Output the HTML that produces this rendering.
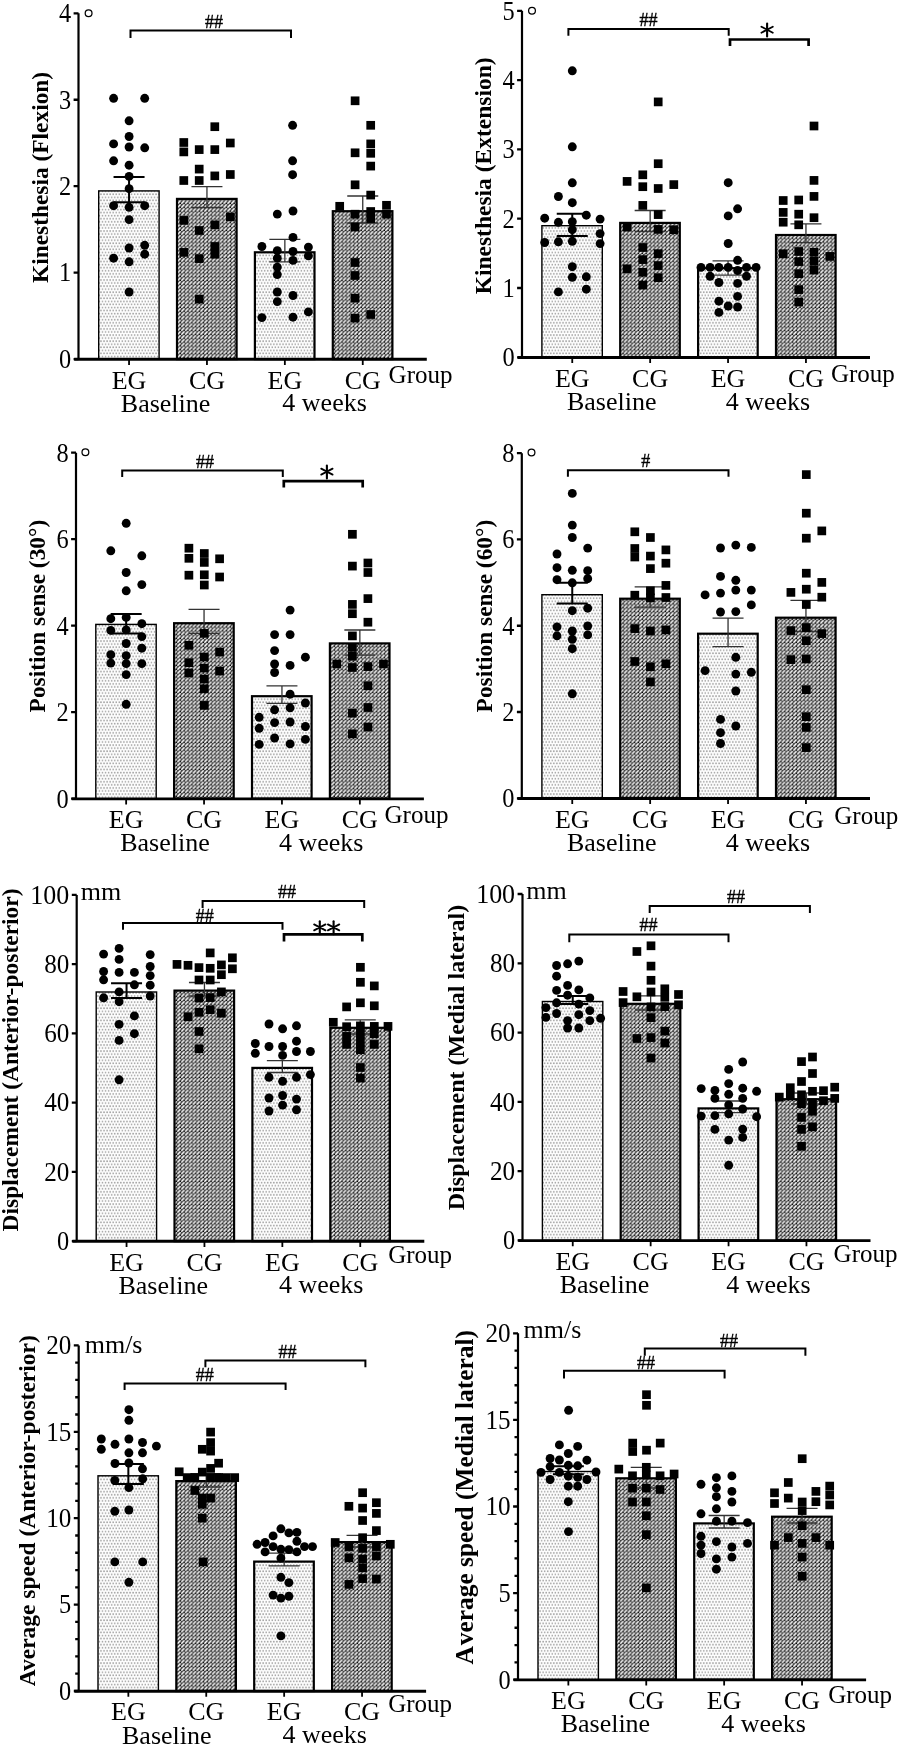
<!DOCTYPE html><html><head><meta charset="utf-8"><style>html,body{margin:0;padding:0;background:#fff;}svg{display:block;will-change:transform;}</style></head><body>
<svg width="901" height="1748" viewBox="0 0 901 1748" font-family='"Liberation Serif", serif' fill="#000">
<defs>
<pattern id="pEG" patternUnits="userSpaceOnUse" width="3.06" height="6.12"><rect width="3.06" height="6.12" fill="#fff"/><rect x="0.7" y="0.7" width="1.6" height="1.6" fill="#a8a8a8"/><rect x="-0.83" y="3.76" width="1.6" height="1.6" fill="#a8a8a8"/><rect x="2.23" y="3.76" width="1.6" height="1.6" fill="#a8a8a8"/></pattern>
<pattern id="pCG" patternUnits="userSpaceOnUse" width="3.85" height="3.85"><rect width="3.85" height="3.85" fill="#444444"/><rect x="2.85" y="2.85" width="1" height="1" fill="#000"/><path d="M0.8 3.05L3.05 0.8" stroke="#fff" stroke-width="1.47" stroke-linecap="round"/></pattern>
</defs>
<rect width="901" height="1748" fill="#fff"/>
<rect x="98.7" y="190.9" width="60.4" height="168.2" fill="url(#pEG)" stroke="#000" stroke-width="1.4"/>
<rect x="177" y="198.9" width="59.6" height="160.2" fill="url(#pCG)" stroke="#000" stroke-width="2.2"/>
<rect x="254.9" y="252.3" width="59.6" height="106.8" fill="url(#pEG)" stroke="#000" stroke-width="2.2"/>
<rect x="332.8" y="211.2" width="59.6" height="147.9" fill="url(#pCG)" stroke="#000" stroke-width="2.2"/>
<path d="M129.05 177.1V202.2M113.55 177.1H144.55M113.55 202.2H144.55" stroke="#000" stroke-width="2" fill="none"/>
<path d="M206.95 186.6V207.5M191.45 186.6H222.45M191.45 207.5H222.45" stroke="#333" stroke-width="1.3" fill="none"/>
<path d="M284.85 239.3V261.8M269.35 239.3H300.35M269.35 261.8H300.35" stroke="#333" stroke-width="1.3" fill="none"/>
<path d="M362.75 196V223M347.25 196H378.25M347.25 223H378.25" stroke="#333" stroke-width="1.3" fill="none"/>
<circle cx="113.6" cy="98.3" r="4.45"/>
<circle cx="144.7" cy="98.3" r="4.45"/>
<circle cx="129.1" cy="120.8" r="4.45"/>
<circle cx="129.1" cy="136.5" r="4.45"/>
<circle cx="113.6" cy="143.9" r="4.45"/>
<circle cx="129.1" cy="147" r="4.45"/>
<circle cx="144.7" cy="147.8" r="4.45"/>
<circle cx="113.6" cy="160.8" r="4.45"/>
<circle cx="129.1" cy="165.2" r="4.45"/>
<circle cx="129.1" cy="176.4" r="4.45"/>
<circle cx="129.1" cy="188.7" r="4.45"/>
<circle cx="113.6" cy="205.7" r="4.45"/>
<circle cx="129.1" cy="207.3" r="4.45"/>
<circle cx="144.7" cy="205.7" r="4.45"/>
<circle cx="129.1" cy="219.6" r="4.45"/>
<circle cx="129.1" cy="248" r="4.45"/>
<circle cx="144.7" cy="245.3" r="4.45"/>
<circle cx="144.7" cy="254.2" r="4.45"/>
<circle cx="113.6" cy="258.2" r="4.45"/>
<circle cx="129.1" cy="261.8" r="4.45"/>
<circle cx="129.1" cy="292" r="4.45"/>
<rect x="210.45" y="122.35" width="8.7" height="8.7"/>
<rect x="179.45" y="138.15" width="8.7" height="8.7"/>
<rect x="225.95" y="138.65" width="8.7" height="8.7"/>
<rect x="179.45" y="147.55" width="8.7" height="8.7"/>
<rect x="194.85" y="145.25" width="8.7" height="8.7"/>
<rect x="210.45" y="145.25" width="8.7" height="8.7"/>
<rect x="194.85" y="164.75" width="8.7" height="8.7"/>
<rect x="179.45" y="176.15" width="8.7" height="8.7"/>
<rect x="194.85" y="176.15" width="8.7" height="8.7"/>
<rect x="210.45" y="171.55" width="8.7" height="8.7"/>
<rect x="225.95" y="170.15" width="8.7" height="8.7"/>
<rect x="179.45" y="216.05" width="8.7" height="8.7"/>
<rect x="225.95" y="212.55" width="8.7" height="8.7"/>
<rect x="210.45" y="220.55" width="8.7" height="8.7"/>
<rect x="194.85" y="226.15" width="8.7" height="8.7"/>
<rect x="179.45" y="248.05" width="8.7" height="8.7"/>
<rect x="210.45" y="242.15" width="8.7" height="8.7"/>
<rect x="210.45" y="249.85" width="8.7" height="8.7"/>
<rect x="194.85" y="254.25" width="8.7" height="8.7"/>
<rect x="194.85" y="294.75" width="8.7" height="8.7"/>
<circle cx="292.6" cy="125.3" r="4.45"/>
<circle cx="292.6" cy="160.8" r="4.45"/>
<circle cx="292.6" cy="174.7" r="4.45"/>
<circle cx="277.3" cy="214.1" r="4.45"/>
<circle cx="293" cy="211" r="4.45"/>
<circle cx="293" cy="237.4" r="4.45"/>
<circle cx="261.9" cy="246.5" r="4.45"/>
<circle cx="308.4" cy="247.1" r="4.45"/>
<circle cx="277.3" cy="250.6" r="4.45"/>
<circle cx="293" cy="251.5" r="4.45"/>
<circle cx="308.4" cy="255.9" r="4.45"/>
<circle cx="277.3" cy="258.2" r="4.45"/>
<circle cx="293" cy="260.4" r="4.45"/>
<circle cx="277.3" cy="267.1" r="4.45"/>
<circle cx="277.3" cy="274.6" r="4.45"/>
<circle cx="277.3" cy="292" r="4.45"/>
<circle cx="293" cy="295.5" r="4.45"/>
<circle cx="277.3" cy="301.6" r="4.45"/>
<circle cx="308.4" cy="311.9" r="4.45"/>
<circle cx="261.9" cy="317.6" r="4.45"/>
<circle cx="293" cy="317.2" r="4.45"/>
<rect x="350.75" y="96.45" width="8.7" height="8.7"/>
<rect x="366.35" y="120.95" width="8.7" height="8.7"/>
<rect x="366.35" y="139.55" width="8.7" height="8.7"/>
<rect x="350.75" y="148.45" width="8.7" height="8.7"/>
<rect x="366.35" y="148.95" width="8.7" height="8.7"/>
<rect x="366.35" y="161.75" width="8.7" height="8.7"/>
<rect x="350.75" y="180.45" width="8.7" height="8.7"/>
<rect x="366.35" y="190.75" width="8.7" height="8.7"/>
<rect x="335.35" y="201.95" width="8.7" height="8.7"/>
<rect x="382.15" y="200.95" width="8.7" height="8.7"/>
<rect x="382.15" y="209.85" width="8.7" height="8.7"/>
<rect x="350.75" y="209.85" width="8.7" height="8.7"/>
<rect x="366.35" y="207.15" width="8.7" height="8.7"/>
<rect x="366.35" y="214.25" width="8.7" height="8.7"/>
<rect x="350.75" y="222.65" width="8.7" height="8.7"/>
<rect x="350.75" y="258.15" width="8.7" height="8.7"/>
<rect x="350.75" y="271.15" width="8.7" height="8.7"/>
<rect x="350.75" y="293.85" width="8.7" height="8.7"/>
<rect x="350.75" y="313.75" width="8.7" height="8.7"/>
<rect x="366.35" y="310.15" width="8.7" height="8.7"/>
<path d="M78.5 13.3V359.1" stroke="#000" stroke-width="2.2" fill="none"/>
<path d="M74.2 359.3H426.8" stroke="#000" stroke-width="2.9" fill="none"/>
<path d="M73.6 359.1H78.5M73.6 272.65H78.5M73.6 186.2H78.5M73.6 99.75H78.5M73.6 13.3H78.5" stroke="#000" stroke-width="2.3" fill="none"/>
<path d="M129.05 359.1V364.9M206.95 359.1V364.9M284.85 359.1V364.9M362.75 359.1V364.9" stroke="#000" stroke-width="1.8" fill="none"/>
<text transform="translate(71.1 367.9) scale(0.92 1)" font-size="26.5" text-anchor="end">0</text>
<text transform="translate(71.1 281.45) scale(0.92 1)" font-size="26.5" text-anchor="end">1</text>
<text transform="translate(71.1 195) scale(0.92 1)" font-size="26.5" text-anchor="end">2</text>
<text transform="translate(71.1 108.55) scale(0.92 1)" font-size="26.5" text-anchor="end">3</text>
<text transform="translate(71.1 22.1) scale(0.92 1)" font-size="26.5" text-anchor="end">4</text>
<circle cx="88.6" cy="13.3" r="3.4" fill="none" stroke="#000" stroke-width="1.25"/>
<text transform="translate(47.5 177.45) rotate(-90)" font-size="23.4" font-weight="bold" text-anchor="middle">Kinesthesia (Flexion)</text>
<text x="129.05" y="388.5" font-size="26" text-anchor="middle">EG</text>
<text x="206.95" y="388.5" font-size="26" text-anchor="middle">CG</text>
<text x="284.85" y="388.5" font-size="26" text-anchor="middle">EG</text>
<text x="362.75" y="388.5" font-size="26" text-anchor="middle">CG</text>
<text x="388.6" y="383.1" font-size="25">Group</text>
<text x="165.6" y="411.8" font-size="26" text-anchor="middle">Baseline</text>
<text x="324.6" y="411.4" font-size="26" text-anchor="middle">4 weeks</text>
<path d="M130.5 37.9V30.5H291V37.9" stroke="#000" stroke-width="2" fill="none"/>
<text x="213.9" y="27.6" font-size="18" text-anchor="middle" stroke="#000" stroke-width="0.35">##</text>
<rect x="541.9" y="225.7" width="60.4" height="131.6" fill="url(#pEG)" stroke="#000" stroke-width="1.4"/>
<rect x="620.2" y="222.9" width="59.6" height="134.4" fill="url(#pCG)" stroke="#000" stroke-width="2.2"/>
<rect x="698.1" y="268.2" width="59.6" height="89.1" fill="url(#pEG)" stroke="#000" stroke-width="2.2"/>
<rect x="776" y="235" width="59.6" height="122.3" fill="url(#pCG)" stroke="#000" stroke-width="2.2"/>
<path d="M572.25 213.7V235.9M556.75 213.7H587.75M556.75 235.9H587.75" stroke="#000" stroke-width="2" fill="none"/>
<path d="M650.15 210.5V231.5M634.65 210.5H665.65M634.65 231.5H665.65" stroke="#333" stroke-width="1.3" fill="none"/>
<path d="M728.05 260.9V275.1M712.55 260.9H743.55M712.55 275.1H743.55" stroke="#333" stroke-width="1.3" fill="none"/>
<path d="M805.95 223.9V242.6M790.45 223.9H821.45M790.45 242.6H821.45" stroke="#333" stroke-width="1.3" fill="none"/>
<circle cx="572.3" cy="70.8" r="4.45"/>
<circle cx="572.3" cy="146.8" r="4.45"/>
<circle cx="572.3" cy="182.8" r="4.45"/>
<circle cx="558.4" cy="196.5" r="4.45"/>
<circle cx="572.3" cy="202.7" r="4.45"/>
<circle cx="586.3" cy="215.2" r="4.45"/>
<circle cx="544.7" cy="218.2" r="4.45"/>
<circle cx="600.1" cy="219.1" r="4.45"/>
<circle cx="558.4" cy="222.3" r="4.45"/>
<circle cx="572.3" cy="221.7" r="4.45"/>
<circle cx="572.3" cy="229.7" r="4.45"/>
<circle cx="600.1" cy="233.6" r="4.45"/>
<circle cx="544.7" cy="242.5" r="4.45"/>
<circle cx="558.4" cy="241.8" r="4.45"/>
<circle cx="572.3" cy="241.3" r="4.45"/>
<circle cx="600.1" cy="243.6" r="4.45"/>
<circle cx="572.3" cy="266.7" r="4.45"/>
<circle cx="572.3" cy="277.3" r="4.45"/>
<circle cx="586.3" cy="276.8" r="4.45"/>
<circle cx="558.4" cy="291.9" r="4.45"/>
<circle cx="586.3" cy="289.2" r="4.45"/>
<rect x="653.85" y="97.55" width="8.7" height="8.7"/>
<rect x="653.85" y="159.35" width="8.7" height="8.7"/>
<rect x="638.45" y="170.45" width="8.7" height="8.7"/>
<rect x="622.75" y="177.05" width="8.7" height="8.7"/>
<rect x="638.45" y="182.35" width="8.7" height="8.7"/>
<rect x="653.85" y="184.15" width="8.7" height="8.7"/>
<rect x="669.45" y="180.25" width="8.7" height="8.7"/>
<rect x="638.45" y="201.05" width="8.7" height="8.7"/>
<rect x="653.85" y="210.25" width="8.7" height="8.7"/>
<rect x="622.75" y="222.75" width="8.7" height="8.7"/>
<rect x="653.85" y="225.05" width="8.7" height="8.7"/>
<rect x="669.45" y="225.35" width="8.7" height="8.7"/>
<rect x="638.45" y="243.15" width="8.7" height="8.7"/>
<rect x="653.85" y="249.35" width="8.7" height="8.7"/>
<rect x="638.45" y="255.25" width="8.7" height="8.7"/>
<rect x="653.85" y="261.25" width="8.7" height="8.7"/>
<rect x="622.75" y="264.45" width="8.7" height="8.7"/>
<rect x="638.45" y="267.95" width="8.7" height="8.7"/>
<rect x="653.85" y="273.35" width="8.7" height="8.7"/>
<rect x="638.45" y="280.75" width="8.7" height="8.7"/>
<circle cx="728.2" cy="182.7" r="4.45"/>
<circle cx="737.6" cy="208.8" r="4.45"/>
<circle cx="728.2" cy="215.9" r="4.45"/>
<circle cx="728.2" cy="243.5" r="4.45"/>
<circle cx="737.6" cy="260.3" r="4.45"/>
<circle cx="701" cy="267.4" r="4.45"/>
<circle cx="710.1" cy="267.4" r="4.45"/>
<circle cx="718.9" cy="267.4" r="4.45"/>
<circle cx="728.2" cy="267.4" r="4.45"/>
<circle cx="746.5" cy="267.4" r="4.45"/>
<circle cx="756.1" cy="267.4" r="4.45"/>
<circle cx="737.6" cy="270.5" r="4.45"/>
<circle cx="710.1" cy="276.3" r="4.45"/>
<circle cx="746.5" cy="276.3" r="4.45"/>
<circle cx="718.9" cy="282.5" r="4.45"/>
<circle cx="737.6" cy="283.4" r="4.45"/>
<circle cx="737.6" cy="296.4" r="4.45"/>
<circle cx="718.9" cy="301.2" r="4.45"/>
<circle cx="728.2" cy="306" r="4.45"/>
<circle cx="737.6" cy="307" r="4.45"/>
<circle cx="718.9" cy="312.4" r="4.45"/>
<rect x="809.65" y="121.65" width="8.7" height="8.7"/>
<rect x="809.65" y="176.05" width="8.7" height="8.7"/>
<rect x="809.65" y="192.05" width="8.7" height="8.7"/>
<rect x="778.85" y="196.15" width="8.7" height="8.7"/>
<rect x="794.35" y="195.65" width="8.7" height="8.7"/>
<rect x="778.85" y="208.05" width="8.7" height="8.7"/>
<rect x="794.35" y="209.85" width="8.7" height="8.7"/>
<rect x="809.65" y="213.35" width="8.7" height="8.7"/>
<rect x="778.85" y="217.85" width="8.7" height="8.7"/>
<rect x="794.35" y="220.45" width="8.7" height="8.7"/>
<rect x="778.85" y="249.45" width="8.7" height="8.7"/>
<rect x="825.45" y="252.05" width="8.7" height="8.7"/>
<rect x="794.35" y="247.15" width="8.7" height="8.7"/>
<rect x="794.35" y="257.25" width="8.7" height="8.7"/>
<rect x="809.65" y="247.95" width="8.7" height="8.7"/>
<rect x="809.65" y="256.85" width="8.7" height="8.7"/>
<rect x="809.65" y="265.75" width="8.7" height="8.7"/>
<rect x="794.35" y="269.35" width="8.7" height="8.7"/>
<rect x="794.35" y="285.25" width="8.7" height="8.7"/>
<rect x="794.35" y="297.75" width="8.7" height="8.7"/>
<path d="M522 10.8V357.3" stroke="#000" stroke-width="2.2" fill="none"/>
<path d="M517.7 357.5H870" stroke="#000" stroke-width="2.9" fill="none"/>
<path d="M517.1 357.3H522M517.1 288H522M517.1 218.7H522M517.1 149.4H522M517.1 80.1H522M517.1 10.8H522" stroke="#000" stroke-width="2.3" fill="none"/>
<path d="M572.25 357.3V363.1M650.15 357.3V363.1M728.05 357.3V363.1M805.95 357.3V363.1" stroke="#000" stroke-width="1.8" fill="none"/>
<text transform="translate(514.6 366.1) scale(0.92 1)" font-size="26.5" text-anchor="end">0</text>
<text transform="translate(514.6 296.8) scale(0.92 1)" font-size="26.5" text-anchor="end">1</text>
<text transform="translate(514.6 227.5) scale(0.92 1)" font-size="26.5" text-anchor="end">2</text>
<text transform="translate(514.6 158.2) scale(0.92 1)" font-size="26.5" text-anchor="end">3</text>
<text transform="translate(514.6 88.9) scale(0.92 1)" font-size="26.5" text-anchor="end">4</text>
<text transform="translate(514.6 19.6) scale(0.92 1)" font-size="26.5" text-anchor="end">5</text>
<circle cx="532" cy="10.7" r="3.4" fill="none" stroke="#000" stroke-width="1.25"/>
<text transform="translate(491.3 175.85) rotate(-90)" font-size="23.5" font-weight="bold" text-anchor="middle">Kinesthesia (Extension)</text>
<text x="572.25" y="386.7" font-size="26" text-anchor="middle">EG</text>
<text x="650.15" y="386.7" font-size="26" text-anchor="middle">CG</text>
<text x="728.05" y="386.7" font-size="26" text-anchor="middle">EG</text>
<text x="805.95" y="386.7" font-size="26" text-anchor="middle">CG</text>
<text x="830.9" y="381.7" font-size="25">Group</text>
<text x="611.75" y="410" font-size="26" text-anchor="middle">Baseline</text>
<text x="768" y="409.6" font-size="26" text-anchor="middle">4 weeks</text>
<path d="M568.4 35.7V28.9H728.7V35.7" stroke="#000" stroke-width="2" fill="none"/>
<text x="648.5" y="25.8" font-size="18" text-anchor="middle" stroke="#000" stroke-width="0.35">##</text>
<path d="M730 46V39.5H808.6V46" stroke="#000" stroke-width="2.7" fill="none"/>
<path d="M761.4 26.7L772.8 32.7M761.4 32.7L772.8 26.7" stroke="#000" stroke-width="1.8" stroke-linecap="round" fill="none"/><path d="M767.1 23.6V36.5" stroke="#000" stroke-width="2.1" stroke-linecap="round" fill="none"/>
<rect x="95.8" y="624.4" width="60.4" height="174.3" fill="url(#pEG)" stroke="#000" stroke-width="1.4"/>
<rect x="174.1" y="623.2" width="59.6" height="175.5" fill="url(#pCG)" stroke="#000" stroke-width="2.2"/>
<rect x="252" y="696.2" width="59.6" height="102.5" fill="url(#pEG)" stroke="#000" stroke-width="2.2"/>
<rect x="329.9" y="643.4" width="59.6" height="155.3" fill="url(#pCG)" stroke="#000" stroke-width="2.2"/>
<path d="M126.15 613.9V633.4M110.65 613.9H141.65M110.65 633.4H141.65" stroke="#000" stroke-width="2" fill="none"/>
<path d="M204.05 609.4V633.4M188.55 609.4H219.55M188.55 633.4H219.55" stroke="#333" stroke-width="1.3" fill="none"/>
<path d="M281.95 685.8V703.4M266.45 685.8H297.45M266.45 703.4H297.45" stroke="#333" stroke-width="1.3" fill="none"/>
<path d="M359.85 630V655.1M344.35 630H375.35M344.35 655.1H375.35" stroke="#333" stroke-width="1.3" fill="none"/>
<circle cx="126.2" cy="523.3" r="4.45"/>
<circle cx="110.8" cy="550.8" r="4.45"/>
<circle cx="141.8" cy="555.8" r="4.45"/>
<circle cx="126.2" cy="572.5" r="4.45"/>
<circle cx="141.8" cy="584.6" r="4.45"/>
<circle cx="126.2" cy="590.8" r="4.45"/>
<circle cx="110.8" cy="618.7" r="4.45"/>
<circle cx="126.2" cy="617.4" r="4.45"/>
<circle cx="141.8" cy="623.7" r="4.45"/>
<circle cx="110.8" cy="630.4" r="4.45"/>
<circle cx="126.2" cy="629.9" r="4.45"/>
<circle cx="141.8" cy="636.6" r="4.45"/>
<circle cx="126.2" cy="643.5" r="4.45"/>
<circle cx="141.8" cy="648.2" r="4.45"/>
<circle cx="110.8" cy="654.7" r="4.45"/>
<circle cx="126.2" cy="655.6" r="4.45"/>
<circle cx="110.8" cy="663.1" r="4.45"/>
<circle cx="126.2" cy="663.6" r="4.45"/>
<circle cx="141.8" cy="663.6" r="4.45"/>
<circle cx="126.2" cy="674.6" r="4.45"/>
<circle cx="126.2" cy="704.3" r="4.45"/>
<rect x="184.55" y="543.85" width="8.7" height="8.7"/>
<rect x="199.95" y="549.15" width="8.7" height="8.7"/>
<rect x="184.55" y="553.95" width="8.7" height="8.7"/>
<rect x="215.25" y="554.45" width="8.7" height="8.7"/>
<rect x="199.95" y="558.05" width="8.7" height="8.7"/>
<rect x="184.55" y="570.85" width="8.7" height="8.7"/>
<rect x="199.95" y="570.45" width="8.7" height="8.7"/>
<rect x="215.25" y="572.65" width="8.7" height="8.7"/>
<rect x="199.95" y="580.65" width="8.7" height="8.7"/>
<rect x="199.95" y="629.05" width="8.7" height="8.7"/>
<rect x="184.55" y="640.95" width="8.7" height="8.7"/>
<rect x="215.25" y="647.75" width="8.7" height="8.7"/>
<rect x="199.95" y="652.65" width="8.7" height="8.7"/>
<rect x="184.55" y="658.35" width="8.7" height="8.7"/>
<rect x="184.55" y="668.55" width="8.7" height="8.7"/>
<rect x="199.95" y="663.75" width="8.7" height="8.7"/>
<rect x="215.25" y="666.75" width="8.7" height="8.7"/>
<rect x="199.95" y="674.75" width="8.7" height="8.7"/>
<rect x="199.95" y="684.45" width="8.7" height="8.7"/>
<rect x="199.95" y="701.05" width="8.7" height="8.7"/>
<circle cx="290.1" cy="610.1" r="4.45"/>
<circle cx="274.6" cy="634.6" r="4.45"/>
<circle cx="290.1" cy="634.6" r="4.45"/>
<circle cx="274.6" cy="650.6" r="4.45"/>
<circle cx="305.4" cy="657.2" r="4.45"/>
<circle cx="274.6" cy="664" r="4.45"/>
<circle cx="290.1" cy="665.4" r="4.45"/>
<circle cx="274.6" cy="672.5" r="4.45"/>
<circle cx="290.1" cy="694.2" r="4.45"/>
<circle cx="305.4" cy="703" r="4.45"/>
<circle cx="274.6" cy="709.8" r="4.45"/>
<circle cx="290.1" cy="707.8" r="4.45"/>
<circle cx="259.2" cy="717.3" r="4.45"/>
<circle cx="274.6" cy="722.6" r="4.45"/>
<circle cx="290.1" cy="722" r="4.45"/>
<circle cx="259.2" cy="728.3" r="4.45"/>
<circle cx="305.4" cy="726.5" r="4.45"/>
<circle cx="274.6" cy="738" r="4.45"/>
<circle cx="305.4" cy="739.4" r="4.45"/>
<circle cx="259.2" cy="744.4" r="4.45"/>
<circle cx="290.1" cy="743.9" r="4.45"/>
<rect x="348.05" y="529.95" width="8.7" height="8.7"/>
<rect x="348.05" y="561.75" width="8.7" height="8.7"/>
<rect x="363.55" y="558.65" width="8.7" height="8.7"/>
<rect x="363.55" y="568.15" width="8.7" height="8.7"/>
<rect x="363.55" y="594.25" width="8.7" height="8.7"/>
<rect x="348.05" y="600.05" width="8.7" height="8.7"/>
<rect x="348.05" y="609.35" width="8.7" height="8.7"/>
<rect x="363.55" y="617.85" width="8.7" height="8.7"/>
<rect x="348.05" y="631.55" width="8.7" height="8.7"/>
<rect x="348.05" y="643.05" width="8.7" height="8.7"/>
<rect x="348.05" y="651.95" width="8.7" height="8.7"/>
<rect x="332.45" y="659.65" width="8.7" height="8.7"/>
<rect x="379.15" y="659.65" width="8.7" height="8.7"/>
<rect x="348.05" y="663.15" width="8.7" height="8.7"/>
<rect x="363.55" y="662.25" width="8.7" height="8.7"/>
<rect x="363.55" y="681.45" width="8.7" height="8.7"/>
<rect x="363.55" y="703.15" width="8.7" height="8.7"/>
<rect x="348.05" y="708.85" width="8.7" height="8.7"/>
<rect x="363.55" y="722.65" width="8.7" height="8.7"/>
<rect x="348.05" y="729.45" width="8.7" height="8.7"/>
<path d="M76 452.7V798.7" stroke="#000" stroke-width="2.2" fill="none"/>
<path d="M71.7 798.9H423.9" stroke="#000" stroke-width="2.9" fill="none"/>
<path d="M71.1 798.7H76M71.1 712.2H76M71.1 625.7H76M71.1 539.2H76M71.1 452.7H76" stroke="#000" stroke-width="2.3" fill="none"/>
<path d="M126.15 798.7V804.5M204.05 798.7V804.5M281.95 798.7V804.5M359.85 798.7V804.5" stroke="#000" stroke-width="1.8" fill="none"/>
<text transform="translate(68.6 807.5) scale(0.92 1)" font-size="26.5" text-anchor="end">0</text>
<text transform="translate(68.6 721) scale(0.92 1)" font-size="26.5" text-anchor="end">2</text>
<text transform="translate(68.6 634.5) scale(0.92 1)" font-size="26.5" text-anchor="end">4</text>
<text transform="translate(68.6 548) scale(0.92 1)" font-size="26.5" text-anchor="end">6</text>
<text transform="translate(68.6 461.5) scale(0.92 1)" font-size="26.5" text-anchor="end">8</text>
<circle cx="85.4" cy="452.2" r="3.4" fill="none" stroke="#000" stroke-width="1.25"/>
<text transform="translate(44.7 616.1) rotate(-90)" font-size="23.4" font-weight="bold" text-anchor="middle">Position sense (30°)</text>
<text x="126.15" y="828.1" font-size="26" text-anchor="middle">EG</text>
<text x="204.05" y="828.1" font-size="26" text-anchor="middle">CG</text>
<text x="281.95" y="828.1" font-size="26" text-anchor="middle">EG</text>
<text x="359.85" y="828.1" font-size="26" text-anchor="middle">CG</text>
<text x="384.5" y="823" font-size="25">Group</text>
<text x="165" y="851.4" font-size="26" text-anchor="middle">Baseline</text>
<text x="321.2" y="851" font-size="26" text-anchor="middle">4 weeks</text>
<path d="M122.2 477V470.6H282.8V477" stroke="#000" stroke-width="2" fill="none"/>
<text x="205" y="467.7" font-size="18" text-anchor="middle" stroke="#000" stroke-width="0.35">##</text>
<path d="M283.8 487.6V481.2H362.7V487.6" stroke="#000" stroke-width="2.7" fill="none"/>
<path d="M321.2 468.6L332.6 474.6M321.2 474.6L332.6 468.6" stroke="#000" stroke-width="1.8" stroke-linecap="round" fill="none"/><path d="M326.9 465.5V478.4" stroke="#000" stroke-width="2.1" stroke-linecap="round" fill="none"/>
<rect x="541.9" y="594.7" width="60.4" height="203.6" fill="url(#pEG)" stroke="#000" stroke-width="1.4"/>
<rect x="620.2" y="598.7" width="59.6" height="199.6" fill="url(#pCG)" stroke="#000" stroke-width="2.2"/>
<rect x="698.1" y="633.7" width="59.6" height="164.6" fill="url(#pEG)" stroke="#000" stroke-width="2.2"/>
<rect x="776" y="617.7" width="59.6" height="180.6" fill="url(#pCG)" stroke="#000" stroke-width="2.2"/>
<path d="M572.25 582.8V603.5M556.75 582.8H587.75M556.75 603.5H587.75" stroke="#000" stroke-width="2" fill="none"/>
<path d="M650.15 586.9V607.1M634.65 586.9H665.65M634.65 607.1H665.65" stroke="#333" stroke-width="1.3" fill="none"/>
<path d="M728.05 618.2V646.6M712.55 618.2H743.55M712.55 646.6H743.55" stroke="#333" stroke-width="1.3" fill="none"/>
<path d="M805.95 600.4V631.5M790.45 600.4H821.45M790.45 631.5H821.45" stroke="#333" stroke-width="1.3" fill="none"/>
<circle cx="572.3" cy="493.4" r="4.45"/>
<circle cx="572.3" cy="525.1" r="4.45"/>
<circle cx="572.3" cy="537.5" r="4.45"/>
<circle cx="587.7" cy="548.1" r="4.45"/>
<circle cx="557" cy="554" r="4.45"/>
<circle cx="557" cy="567.7" r="4.45"/>
<circle cx="572.3" cy="570.3" r="4.45"/>
<circle cx="587.7" cy="570.7" r="4.45"/>
<circle cx="557" cy="579.7" r="4.45"/>
<circle cx="587.7" cy="578.7" r="4.45"/>
<circle cx="572.3" cy="582.8" r="4.45"/>
<circle cx="572.3" cy="610.7" r="4.45"/>
<circle cx="587.7" cy="608.2" r="4.45"/>
<circle cx="557" cy="626.9" r="4.45"/>
<circle cx="557" cy="635.8" r="4.45"/>
<circle cx="587.7" cy="626" r="4.45"/>
<circle cx="587.7" cy="634.9" r="4.45"/>
<circle cx="572.3" cy="631" r="4.45"/>
<circle cx="572.3" cy="639.3" r="4.45"/>
<circle cx="572.3" cy="648.7" r="4.45"/>
<circle cx="572.3" cy="693.8" r="4.45"/>
<rect x="630.45" y="527.45" width="8.7" height="8.7"/>
<rect x="646.05" y="533.15" width="8.7" height="8.7"/>
<rect x="630.45" y="544.15" width="8.7" height="8.7"/>
<rect x="630.45" y="552.65" width="8.7" height="8.7"/>
<rect x="661.55" y="545.55" width="8.7" height="8.7"/>
<rect x="646.05" y="551.75" width="8.7" height="8.7"/>
<rect x="661.55" y="558.85" width="8.7" height="8.7"/>
<rect x="646.05" y="564.25" width="8.7" height="8.7"/>
<rect x="661.55" y="581.05" width="8.7" height="8.7"/>
<rect x="646.05" y="586.45" width="8.7" height="8.7"/>
<rect x="646.05" y="593.55" width="8.7" height="8.7"/>
<rect x="630.45" y="590.85" width="8.7" height="8.7"/>
<rect x="661.55" y="593.15" width="8.7" height="8.7"/>
<rect x="630.45" y="624.25" width="8.7" height="8.7"/>
<rect x="646.05" y="626.65" width="8.7" height="8.7"/>
<rect x="661.55" y="625.55" width="8.7" height="8.7"/>
<rect x="630.45" y="657.15" width="8.7" height="8.7"/>
<rect x="646.05" y="662.45" width="8.7" height="8.7"/>
<rect x="661.55" y="659.45" width="8.7" height="8.7"/>
<rect x="646.05" y="677.55" width="8.7" height="8.7"/>
<circle cx="720.5" cy="548" r="4.45"/>
<circle cx="735.8" cy="545.1" r="4.45"/>
<circle cx="751.3" cy="547.4" r="4.45"/>
<circle cx="720.5" cy="576.4" r="4.45"/>
<circle cx="735.8" cy="580.3" r="4.45"/>
<circle cx="705.1" cy="594.9" r="4.45"/>
<circle cx="720.5" cy="593.1" r="4.45"/>
<circle cx="735.8" cy="590.1" r="4.45"/>
<circle cx="751.3" cy="590.1" r="4.45"/>
<circle cx="751.3" cy="604.9" r="4.45"/>
<circle cx="720.5" cy="612" r="4.45"/>
<circle cx="735.8" cy="611.6" r="4.45"/>
<circle cx="735.8" cy="657.3" r="4.45"/>
<circle cx="705.1" cy="670.6" r="4.45"/>
<circle cx="735.8" cy="674.1" r="4.45"/>
<circle cx="751.3" cy="672.3" r="4.45"/>
<circle cx="735.8" cy="691" r="4.45"/>
<circle cx="720.5" cy="719.4" r="4.45"/>
<circle cx="735.8" cy="726" r="4.45"/>
<circle cx="720.5" cy="732.7" r="4.45"/>
<circle cx="720.5" cy="743.5" r="4.45"/>
<rect x="801.95" y="470.25" width="8.7" height="8.7"/>
<rect x="801.95" y="508.85" width="8.7" height="8.7"/>
<rect x="817.45" y="526.55" width="8.7" height="8.7"/>
<rect x="801.95" y="533.85" width="8.7" height="8.7"/>
<rect x="801.95" y="568.85" width="8.7" height="8.7"/>
<rect x="817.45" y="578.05" width="8.7" height="8.7"/>
<rect x="801.95" y="584.85" width="8.7" height="8.7"/>
<rect x="786.55" y="588.05" width="8.7" height="8.7"/>
<rect x="817.45" y="592.85" width="8.7" height="8.7"/>
<rect x="801.95" y="600.15" width="8.7" height="8.7"/>
<rect x="786.55" y="626.25" width="8.7" height="8.7"/>
<rect x="801.95" y="623.25" width="8.7" height="8.7"/>
<rect x="817.45" y="629.25" width="8.7" height="8.7"/>
<rect x="801.95" y="636.35" width="8.7" height="8.7"/>
<rect x="786.55" y="655.25" width="8.7" height="8.7"/>
<rect x="801.95" y="654.65" width="8.7" height="8.7"/>
<rect x="801.95" y="685.35" width="8.7" height="8.7"/>
<rect x="801.95" y="712.35" width="8.7" height="8.7"/>
<rect x="801.95" y="723.05" width="8.7" height="8.7"/>
<rect x="801.95" y="743.25" width="8.7" height="8.7"/>
<path d="M521.8 453.2V798.3" stroke="#000" stroke-width="2.2" fill="none"/>
<path d="M517.5 798.5H870" stroke="#000" stroke-width="2.9" fill="none"/>
<path d="M516.9 798.3H521.8M516.9 712.02H521.8M516.9 625.75H521.8M516.9 539.47H521.8M516.9 453.2H521.8" stroke="#000" stroke-width="2.3" fill="none"/>
<path d="M572.25 798.3V804.1M650.15 798.3V804.1M728.05 798.3V804.1M805.95 798.3V804.1" stroke="#000" stroke-width="1.8" fill="none"/>
<text transform="translate(514.4 807.1) scale(0.92 1)" font-size="26.5" text-anchor="end">0</text>
<text transform="translate(514.4 720.82) scale(0.92 1)" font-size="26.5" text-anchor="end">2</text>
<text transform="translate(514.4 634.55) scale(0.92 1)" font-size="26.5" text-anchor="end">4</text>
<text transform="translate(514.4 548.27) scale(0.92 1)" font-size="26.5" text-anchor="end">6</text>
<text transform="translate(514.4 462) scale(0.92 1)" font-size="26.5" text-anchor="end">8</text>
<circle cx="531.5" cy="452.5" r="3.4" fill="none" stroke="#000" stroke-width="1.25"/>
<text transform="translate(492 616.1) rotate(-90)" font-size="23.4" font-weight="bold" text-anchor="middle">Position sense (60°)</text>
<text x="572.25" y="827.7" font-size="26" text-anchor="middle">EG</text>
<text x="650.15" y="827.7" font-size="26" text-anchor="middle">CG</text>
<text x="728.05" y="827.7" font-size="26" text-anchor="middle">EG</text>
<text x="805.95" y="827.7" font-size="26" text-anchor="middle">CG</text>
<text x="834.3" y="823.6" font-size="25">Group</text>
<text x="611.75" y="851" font-size="26" text-anchor="middle">Baseline</text>
<text x="768" y="850.6" font-size="26" text-anchor="middle">4 weeks</text>
<path d="M567.9 476.7V470.2H728.5V476.7" stroke="#000" stroke-width="2" fill="none"/>
<text x="645.7" y="467.3" font-size="18" text-anchor="middle" stroke="#000" stroke-width="0.35">#</text>
<rect x="96.2" y="992" width="60.4" height="249.1" fill="url(#pEG)" stroke="#000" stroke-width="1.4"/>
<rect x="174.5" y="990.6" width="59.6" height="250.5" fill="url(#pCG)" stroke="#000" stroke-width="2.2"/>
<rect x="252.4" y="1067.9" width="59.6" height="173.2" fill="url(#pEG)" stroke="#000" stroke-width="2.2"/>
<rect x="330.3" y="1027.8" width="59.6" height="213.3" fill="url(#pCG)" stroke="#000" stroke-width="2.2"/>
<path d="M126.55 983.3V997.9M111.05 983.3H142.05M111.05 997.9H142.05" stroke="#000" stroke-width="2" fill="none"/>
<path d="M204.45 982.5V996M188.95 982.5H219.95M188.95 996H219.95" stroke="#333" stroke-width="1.3" fill="none"/>
<path d="M282.35 1060.7V1072.5M266.85 1060.7H297.85M266.85 1072.5H297.85" stroke="#333" stroke-width="1.3" fill="none"/>
<path d="M360.25 1019.9V1034M344.75 1019.9H375.75M344.75 1034H375.75" stroke="#333" stroke-width="1.3" fill="none"/>
<circle cx="119.1" cy="948.4" r="4.45"/>
<circle cx="103.6" cy="954.1" r="4.45"/>
<circle cx="150.2" cy="954.6" r="4.45"/>
<circle cx="119.1" cy="959.4" r="4.45"/>
<circle cx="150.2" cy="966.5" r="4.45"/>
<circle cx="103.6" cy="971.5" r="4.45"/>
<circle cx="119.1" cy="972.4" r="4.45"/>
<circle cx="134.4" cy="972.4" r="4.45"/>
<circle cx="150.2" cy="975.6" r="4.45"/>
<circle cx="103.6" cy="979.8" r="4.45"/>
<circle cx="134.4" cy="984.8" r="4.45"/>
<circle cx="150.2" cy="985.2" r="4.45"/>
<circle cx="119.1" cy="991.9" r="4.45"/>
<circle cx="150.2" cy="996" r="4.45"/>
<circle cx="103.6" cy="997.8" r="4.45"/>
<circle cx="119.1" cy="1001.7" r="4.45"/>
<circle cx="134.4" cy="1015.9" r="4.45"/>
<circle cx="119.1" cy="1024.4" r="4.45"/>
<circle cx="134.4" cy="1033.7" r="4.45"/>
<circle cx="119.1" cy="1040.4" r="4.45"/>
<circle cx="119.1" cy="1079.8" r="4.45"/>
<rect x="205.85" y="948.55" width="8.7" height="8.7"/>
<rect x="228.05" y="953.45" width="8.7" height="8.7"/>
<rect x="172.65" y="960.05" width="8.7" height="8.7"/>
<rect x="183.65" y="960.95" width="8.7" height="8.7"/>
<rect x="217.05" y="960.55" width="8.7" height="8.7"/>
<rect x="194.65" y="963.25" width="8.7" height="8.7"/>
<rect x="205.85" y="963.95" width="8.7" height="8.7"/>
<rect x="228.05" y="964.45" width="8.7" height="8.7"/>
<rect x="217.05" y="970.35" width="8.7" height="8.7"/>
<rect x="194.65" y="975.65" width="8.7" height="8.7"/>
<rect x="205.85" y="975.65" width="8.7" height="8.7"/>
<rect x="217.05" y="987.55" width="8.7" height="8.7"/>
<rect x="194.65" y="993.75" width="8.7" height="8.7"/>
<rect x="205.85" y="993.25" width="8.7" height="8.7"/>
<rect x="205.85" y="1005.35" width="8.7" height="8.7"/>
<rect x="183.65" y="1012.45" width="8.7" height="8.7"/>
<rect x="194.65" y="1007.95" width="8.7" height="8.7"/>
<rect x="217.05" y="1008.85" width="8.7" height="8.7"/>
<rect x="194.65" y="1027.15" width="8.7" height="8.7"/>
<rect x="194.65" y="1044.45" width="8.7" height="8.7"/>
<circle cx="269" cy="1024" r="4.45"/>
<circle cx="282.6" cy="1028.8" r="4.45"/>
<circle cx="296.5" cy="1025.8" r="4.45"/>
<circle cx="296.5" cy="1041.2" r="4.45"/>
<circle cx="255.3" cy="1043.5" r="4.45"/>
<circle cx="269" cy="1046.5" r="4.45"/>
<circle cx="282.6" cy="1046.5" r="4.45"/>
<circle cx="255.3" cy="1053.3" r="4.45"/>
<circle cx="296.5" cy="1051.5" r="4.45"/>
<circle cx="310.4" cy="1051.5" r="4.45"/>
<circle cx="282.6" cy="1055.4" r="4.45"/>
<circle cx="310.4" cy="1074.6" r="4.45"/>
<circle cx="269" cy="1077.3" r="4.45"/>
<circle cx="296.5" cy="1077.3" r="4.45"/>
<circle cx="282.6" cy="1081.3" r="4.45"/>
<circle cx="282.6" cy="1095.5" r="4.45"/>
<circle cx="269" cy="1098" r="4.45"/>
<circle cx="296.5" cy="1099.1" r="4.45"/>
<circle cx="282.6" cy="1105.1" r="4.45"/>
<circle cx="269" cy="1111" r="4.45"/>
<circle cx="296.5" cy="1109.8" r="4.45"/>
<rect x="356.05" y="962.95" width="8.7" height="8.7"/>
<rect x="356.05" y="977.95" width="8.7" height="8.7"/>
<rect x="369.95" y="981.55" width="8.7" height="8.7"/>
<rect x="342.25" y="1002.55" width="8.7" height="8.7"/>
<rect x="356.05" y="998.45" width="8.7" height="8.7"/>
<rect x="369.95" y="1001.45" width="8.7" height="8.7"/>
<rect x="328.95" y="1017.95" width="8.7" height="8.7"/>
<rect x="342.25" y="1022.35" width="8.7" height="8.7"/>
<rect x="356.05" y="1021.55" width="8.7" height="8.7"/>
<rect x="369.95" y="1022.05" width="8.7" height="8.7"/>
<rect x="383.65" y="1022.05" width="8.7" height="8.7"/>
<rect x="342.25" y="1032.05" width="8.7" height="8.7"/>
<rect x="342.25" y="1040.05" width="8.7" height="8.7"/>
<rect x="356.05" y="1029.35" width="8.7" height="8.7"/>
<rect x="356.05" y="1037.35" width="8.7" height="8.7"/>
<rect x="356.05" y="1045.35" width="8.7" height="8.7"/>
<rect x="369.95" y="1029.35" width="8.7" height="8.7"/>
<rect x="369.95" y="1040.05" width="8.7" height="8.7"/>
<rect x="356.05" y="1063.15" width="8.7" height="8.7"/>
<rect x="356.05" y="1073.75" width="8.7" height="8.7"/>
<path d="M76.7 894.9V1241.1" stroke="#000" stroke-width="2.2" fill="none"/>
<path d="M72.4 1241.3H424.3" stroke="#000" stroke-width="2.9" fill="none"/>
<path d="M71.8 1241.1H76.7M71.8 1171.86H76.7M71.8 1102.62H76.7M71.8 1033.38H76.7M71.8 964.14H76.7M71.8 894.9H76.7" stroke="#000" stroke-width="2.3" fill="none"/>
<path d="M126.55 1241.1V1246.9M204.45 1241.1V1246.9M282.35 1241.1V1246.9M360.25 1241.1V1246.9" stroke="#000" stroke-width="1.8" fill="none"/>
<text transform="translate(69.3 1249.9) scale(0.92 1)" font-size="26.5" text-anchor="end">0</text>
<text transform="translate(69.3 1180.66) scale(0.95 1)" font-size="26.5" text-anchor="end">20</text>
<text transform="translate(69.3 1111.42) scale(0.95 1)" font-size="26.5" text-anchor="end">40</text>
<text transform="translate(69.3 1042.18) scale(0.95 1)" font-size="26.5" text-anchor="end">60</text>
<text transform="translate(69.3 972.94) scale(0.95 1)" font-size="26.5" text-anchor="end">80</text>
<text transform="translate(69.3 903.7) scale(0.98 1)" font-size="26.5" text-anchor="end">100</text>
<text x="80.8" y="899.6" font-size="26">mm</text>
<text transform="translate(17.5 1059.9) rotate(-90)" font-size="23.5" font-weight="bold" text-anchor="middle">Displacement (Anterior-posterior)</text>
<text x="126.55" y="1270.5" font-size="26" text-anchor="middle">EG</text>
<text x="204.45" y="1270.5" font-size="26" text-anchor="middle">CG</text>
<text x="282.35" y="1270.5" font-size="26" text-anchor="middle">EG</text>
<text x="360.25" y="1270.5" font-size="26" text-anchor="middle">CG</text>
<text x="388.2" y="1263.3" font-size="25">Group</text>
<text x="163.2" y="1293.8" font-size="26" text-anchor="middle">Baseline</text>
<text x="321.2" y="1293.4" font-size="26" text-anchor="middle">4 weeks</text>
<path d="M202.6 908V901.1H364.2V908" stroke="#000" stroke-width="2" fill="none"/>
<text x="287.1" y="898.3" font-size="18" text-anchor="middle" stroke="#000" stroke-width="0.35">##</text>
<path d="M123 929.7V922.9H282.5V929.7" stroke="#000" stroke-width="2" fill="none"/>
<text x="204.8" y="921.6" font-size="18" text-anchor="middle" stroke="#000" stroke-width="0.35">##</text>
<path d="M284 941.5V934.4H362.3V941.5" stroke="#000" stroke-width="2.7" fill="none"/>
<path d="M314.1 924.4L325.5 930.4M314.1 930.4L325.5 924.4" stroke="#000" stroke-width="1.8" stroke-linecap="round" fill="none"/><path d="M319.8 921.3V934.2" stroke="#000" stroke-width="2.1" stroke-linecap="round" fill="none"/>
<path d="M327.9 924.4L339.3 930.4M327.9 930.4L339.3 924.4" stroke="#000" stroke-width="1.8" stroke-linecap="round" fill="none"/><path d="M333.6 921.3V934.2" stroke="#000" stroke-width="2.1" stroke-linecap="round" fill="none"/>
<rect x="542.4" y="1001.5" width="60.4" height="238.9" fill="url(#pEG)" stroke="#000" stroke-width="1.4"/>
<rect x="620.7" y="1003.8" width="59.6" height="236.6" fill="url(#pCG)" stroke="#000" stroke-width="2.2"/>
<rect x="698.6" y="1108.4" width="59.6" height="132" fill="url(#pEG)" stroke="#000" stroke-width="2.2"/>
<rect x="776.5" y="1099.2" width="59.6" height="141.2" fill="url(#pCG)" stroke="#000" stroke-width="2.2"/>
<path d="M572.75 996.1V1004.1M557.25 996.1H588.25M557.25 1004.1H588.25" stroke="#000" stroke-width="2" fill="none"/>
<path d="M650.65 995.9V1010M635.15 995.9H666.15M635.15 1010H666.15" stroke="#333" stroke-width="1.3" fill="none"/>
<path d="M728.55 1101V1112.6M713.05 1101H744.05M713.05 1112.6H744.05" stroke="#333" stroke-width="1.3" fill="none"/>
<path d="M806.45 1093V1104M790.95 1093H821.95M790.95 1104H821.95" stroke="#333" stroke-width="1.3" fill="none"/>
<circle cx="578.8" cy="961.1" r="4.45"/>
<circle cx="556.6" cy="965.5" r="4.45"/>
<circle cx="567.6" cy="963.8" r="4.45"/>
<circle cx="556.6" cy="976.2" r="4.45"/>
<circle cx="567.6" cy="985.4" r="4.45"/>
<circle cx="556.6" cy="990.4" r="4.45"/>
<circle cx="578.8" cy="989.9" r="4.45"/>
<circle cx="567.6" cy="995.2" r="4.45"/>
<circle cx="589.8" cy="997.9" r="4.45"/>
<circle cx="556.6" cy="1002.8" r="4.45"/>
<circle cx="578.8" cy="1004.1" r="4.45"/>
<circle cx="545.9" cy="1007.6" r="4.45"/>
<circle cx="589.8" cy="1010.6" r="4.45"/>
<circle cx="556.6" cy="1013.5" r="4.45"/>
<circle cx="578.8" cy="1014.7" r="4.45"/>
<circle cx="545.9" cy="1017.4" r="4.45"/>
<circle cx="600.6" cy="1018.3" r="4.45"/>
<circle cx="567.6" cy="1020.6" r="4.45"/>
<circle cx="589.8" cy="1020.6" r="4.45"/>
<circle cx="567.6" cy="1028" r="4.45"/>
<circle cx="578.8" cy="1028" r="4.45"/>
<rect x="646.65" y="941.45" width="8.7" height="8.7"/>
<rect x="632.55" y="947.15" width="8.7" height="8.7"/>
<rect x="646.65" y="961.75" width="8.7" height="8.7"/>
<rect x="646.65" y="975.95" width="8.7" height="8.7"/>
<rect x="660.45" y="984.45" width="8.7" height="8.7"/>
<rect x="660.45" y="992.95" width="8.7" height="8.7"/>
<rect x="618.75" y="987.15" width="8.7" height="8.7"/>
<rect x="646.65" y="987.65" width="8.7" height="8.7"/>
<rect x="632.55" y="992.45" width="8.7" height="8.7"/>
<rect x="674.15" y="990.15" width="8.7" height="8.7"/>
<rect x="618.75" y="998.25" width="8.7" height="8.7"/>
<rect x="674.15" y="1000.45" width="8.7" height="8.7"/>
<rect x="646.65" y="1002.55" width="8.7" height="8.7"/>
<rect x="660.45" y="1002.25" width="8.7" height="8.7"/>
<rect x="646.65" y="1013.25" width="8.7" height="8.7"/>
<rect x="660.45" y="1026.75" width="8.7" height="8.7"/>
<rect x="632.55" y="1034.15" width="8.7" height="8.7"/>
<rect x="646.65" y="1033.25" width="8.7" height="8.7"/>
<rect x="660.45" y="1038.65" width="8.7" height="8.7"/>
<rect x="646.65" y="1053.65" width="8.7" height="8.7"/>
<circle cx="742.7" cy="1062" r="4.45"/>
<circle cx="728.7" cy="1069.4" r="4.45"/>
<circle cx="728.7" cy="1083.6" r="4.45"/>
<circle cx="701.2" cy="1088.6" r="4.45"/>
<circle cx="714.9" cy="1090.4" r="4.45"/>
<circle cx="742.7" cy="1088.2" r="4.45"/>
<circle cx="756.6" cy="1091.3" r="4.45"/>
<circle cx="728.7" cy="1094.3" r="4.45"/>
<circle cx="714.9" cy="1098.4" r="4.45"/>
<circle cx="742.7" cy="1098.4" r="4.45"/>
<circle cx="728.7" cy="1104.9" r="4.45"/>
<circle cx="742.7" cy="1109" r="4.45"/>
<circle cx="701.2" cy="1116.1" r="4.45"/>
<circle cx="714.9" cy="1115.6" r="4.45"/>
<circle cx="728.7" cy="1113.8" r="4.45"/>
<circle cx="756.6" cy="1116.7" r="4.45"/>
<circle cx="714.9" cy="1129.4" r="4.45"/>
<circle cx="742.7" cy="1129.1" r="4.45"/>
<circle cx="742.7" cy="1137.4" r="4.45"/>
<circle cx="728.7" cy="1140.1" r="4.45"/>
<circle cx="728.7" cy="1165.3" r="4.45"/>
<rect x="808.15" y="1052.65" width="8.7" height="8.7"/>
<rect x="797.15" y="1057.25" width="8.7" height="8.7"/>
<rect x="808.15" y="1069.15" width="8.7" height="8.7"/>
<rect x="797.15" y="1077.15" width="8.7" height="8.7"/>
<rect x="785.95" y="1083.35" width="8.7" height="8.7"/>
<rect x="785.95" y="1091.35" width="8.7" height="8.7"/>
<rect x="830.35" y="1082.85" width="8.7" height="8.7"/>
<rect x="830.35" y="1094.05" width="8.7" height="8.7"/>
<rect x="808.15" y="1086.95" width="8.7" height="8.7"/>
<rect x="819.15" y="1086.35" width="8.7" height="8.7"/>
<rect x="819.15" y="1096.35" width="8.7" height="8.7"/>
<rect x="797.15" y="1090.45" width="8.7" height="8.7"/>
<rect x="797.15" y="1099.35" width="8.7" height="8.7"/>
<rect x="774.95" y="1092.75" width="8.7" height="8.7"/>
<rect x="808.15" y="1098.45" width="8.7" height="8.7"/>
<rect x="808.15" y="1106.95" width="8.7" height="8.7"/>
<rect x="797.15" y="1113.05" width="8.7" height="8.7"/>
<rect x="797.15" y="1125.05" width="8.7" height="8.7"/>
<rect x="808.15" y="1122.45" width="8.7" height="8.7"/>
<rect x="797.15" y="1141.95" width="8.7" height="8.7"/>
<path d="M522.5 894V1240.4" stroke="#000" stroke-width="2.2" fill="none"/>
<path d="M518.2 1240.6H870.5" stroke="#000" stroke-width="2.9" fill="none"/>
<path d="M517.6 1240.4H522.5M517.6 1171.12H522.5M517.6 1101.84H522.5M517.6 1032.56H522.5M517.6 963.28H522.5M517.6 894H522.5" stroke="#000" stroke-width="2.3" fill="none"/>
<path d="M572.75 1240.4V1246.2M650.65 1240.4V1246.2M728.55 1240.4V1246.2M806.45 1240.4V1246.2" stroke="#000" stroke-width="1.8" fill="none"/>
<text transform="translate(515.1 1249.2) scale(0.92 1)" font-size="26.5" text-anchor="end">0</text>
<text transform="translate(515.1 1179.92) scale(0.95 1)" font-size="26.5" text-anchor="end">20</text>
<text transform="translate(515.1 1110.64) scale(0.95 1)" font-size="26.5" text-anchor="end">40</text>
<text transform="translate(515.1 1041.36) scale(0.95 1)" font-size="26.5" text-anchor="end">60</text>
<text transform="translate(515.1 972.08) scale(0.95 1)" font-size="26.5" text-anchor="end">80</text>
<text transform="translate(515.1 902.8) scale(0.98 1)" font-size="26.5" text-anchor="end">100</text>
<text x="526.3" y="898.7" font-size="26">mm</text>
<text transform="translate(463.9 1057.5) rotate(-90)" font-size="24" font-weight="bold" text-anchor="middle">Displacement (Medial lateral)</text>
<text x="572.75" y="1269.8" font-size="26" text-anchor="middle">EG</text>
<text x="650.65" y="1269.8" font-size="26" text-anchor="middle">CG</text>
<text x="728.55" y="1269.8" font-size="26" text-anchor="middle">EG</text>
<text x="806.45" y="1269.8" font-size="26" text-anchor="middle">CG</text>
<text x="833.6" y="1261.9" font-size="25">Group</text>
<text x="604.5" y="1293.1" font-size="26" text-anchor="middle">Baseline</text>
<text x="768.5" y="1292.7" font-size="26" text-anchor="middle">4 weeks</text>
<path d="M649.7 912.9V906H809.9V912.9" stroke="#000" stroke-width="2" fill="none"/>
<text x="735.9" y="903" font-size="18" text-anchor="middle" stroke="#000" stroke-width="0.35">##</text>
<path d="M569.3 942.2V934.5H728.5V942.2" stroke="#000" stroke-width="2" fill="none"/>
<text x="648.5" y="930.8" font-size="18" text-anchor="middle" stroke="#000" stroke-width="0.35">##</text>
<rect x="98" y="1475.8" width="60.4" height="215.2" fill="url(#pEG)" stroke="#000" stroke-width="1.4"/>
<rect x="176.3" y="1481.1" width="59.6" height="209.9" fill="url(#pCG)" stroke="#000" stroke-width="2.2"/>
<rect x="254.2" y="1561.6" width="59.6" height="129.4" fill="url(#pEG)" stroke="#000" stroke-width="2.2"/>
<rect x="332.1" y="1542.1" width="59.6" height="148.9" fill="url(#pCG)" stroke="#000" stroke-width="2.2"/>
<path d="M128.35 1463.9V1484.1M112.85 1463.9H143.85M112.85 1484.1H143.85" stroke="#000" stroke-width="2" fill="none"/>
<path d="M206.25 1473.7V1487M190.75 1473.7H221.75M190.75 1487H221.75" stroke="#333" stroke-width="1.3" fill="none"/>
<path d="M284.15 1553.2V1565.8M268.65 1553.2H299.65M268.65 1565.8H299.65" stroke="#333" stroke-width="1.3" fill="none"/>
<path d="M362.05 1535.4V1547M346.55 1535.4H377.55M346.55 1547H377.55" stroke="#333" stroke-width="1.3" fill="none"/>
<circle cx="128.9" cy="1409.7" r="4.45"/>
<circle cx="128.9" cy="1420.3" r="4.45"/>
<circle cx="101.3" cy="1439" r="4.45"/>
<circle cx="128.9" cy="1439" r="4.45"/>
<circle cx="115" cy="1444.3" r="4.45"/>
<circle cx="142.5" cy="1442.5" r="4.45"/>
<circle cx="156.4" cy="1446.1" r="4.45"/>
<circle cx="101.3" cy="1449.3" r="4.45"/>
<circle cx="128.9" cy="1452.8" r="4.45"/>
<circle cx="142.5" cy="1452.8" r="4.45"/>
<circle cx="115" cy="1463.5" r="4.45"/>
<circle cx="128.9" cy="1463" r="4.45"/>
<circle cx="142.5" cy="1468.8" r="4.45"/>
<circle cx="114.8" cy="1480.5" r="4.45"/>
<circle cx="142.7" cy="1478.8" r="4.45"/>
<circle cx="128.9" cy="1487.6" r="4.45"/>
<circle cx="114.8" cy="1511.3" r="4.45"/>
<circle cx="128.9" cy="1510" r="4.45"/>
<circle cx="114.8" cy="1561.9" r="4.45"/>
<circle cx="142.7" cy="1561.9" r="4.45"/>
<circle cx="128.9" cy="1582.3" r="4.45"/>
<rect x="206.25" y="1427.75" width="8.7" height="8.7"/>
<rect x="206.25" y="1438.25" width="8.7" height="8.7"/>
<rect x="206.25" y="1446.75" width="8.7" height="8.7"/>
<rect x="197.95" y="1444.95" width="8.7" height="8.7"/>
<rect x="214.25" y="1458.85" width="8.7" height="8.7"/>
<rect x="206.25" y="1464.05" width="8.7" height="8.7"/>
<rect x="174.85" y="1467.45" width="8.7" height="8.7"/>
<rect x="197.95" y="1467.75" width="8.7" height="8.7"/>
<rect x="182.85" y="1473.25" width="8.7" height="8.7"/>
<rect x="190.45" y="1473.25" width="8.7" height="8.7"/>
<rect x="206.25" y="1473.25" width="8.7" height="8.7"/>
<rect x="214.25" y="1473.25" width="8.7" height="8.7"/>
<rect x="221.95" y="1473.25" width="8.7" height="8.7"/>
<rect x="230.35" y="1473.25" width="8.7" height="8.7"/>
<rect x="190.45" y="1486.15" width="8.7" height="8.7"/>
<rect x="197.95" y="1493.75" width="8.7" height="8.7"/>
<rect x="206.25" y="1493.75" width="8.7" height="8.7"/>
<rect x="197.95" y="1499.95" width="8.7" height="8.7"/>
<rect x="197.95" y="1513.85" width="8.7" height="8.7"/>
<rect x="198.75" y="1557.55" width="8.7" height="8.7"/>
<circle cx="280.9" cy="1528.8" r="4.45"/>
<circle cx="288.9" cy="1532.9" r="4.45"/>
<circle cx="296.9" cy="1532.4" r="4.45"/>
<circle cx="273.1" cy="1535.9" r="4.45"/>
<circle cx="296.9" cy="1541.3" r="4.45"/>
<circle cx="265.1" cy="1542.5" r="4.45"/>
<circle cx="257.1" cy="1544.3" r="4.45"/>
<circle cx="273.1" cy="1546.6" r="4.45"/>
<circle cx="304.5" cy="1546.6" r="4.45"/>
<circle cx="312.5" cy="1546.6" r="4.45"/>
<circle cx="280.9" cy="1549.3" r="4.45"/>
<circle cx="288.9" cy="1549.6" r="4.45"/>
<circle cx="265.1" cy="1551.9" r="4.45"/>
<circle cx="296.9" cy="1551.9" r="4.45"/>
<circle cx="280.9" cy="1558.1" r="4.45"/>
<circle cx="280.9" cy="1577.3" r="4.45"/>
<circle cx="288.9" cy="1582.6" r="4.45"/>
<circle cx="273.1" cy="1595.1" r="4.45"/>
<circle cx="280.9" cy="1598.1" r="4.45"/>
<circle cx="288.9" cy="1596.3" r="4.45"/>
<circle cx="280.9" cy="1635.9" r="4.45"/>
<rect x="358.25" y="1488.35" width="8.7" height="8.7"/>
<rect x="344.55" y="1501.95" width="8.7" height="8.7"/>
<rect x="358.25" y="1503.75" width="8.7" height="8.7"/>
<rect x="372.05" y="1498.35" width="8.7" height="8.7"/>
<rect x="372.05" y="1509.05" width="8.7" height="8.7"/>
<rect x="358.25" y="1516.15" width="8.7" height="8.7"/>
<rect x="372.05" y="1526.25" width="8.7" height="8.7"/>
<rect x="358.25" y="1533.35" width="8.7" height="8.7"/>
<rect x="330.85" y="1538.15" width="8.7" height="8.7"/>
<rect x="385.95" y="1539.95" width="8.7" height="8.7"/>
<rect x="344.55" y="1542.25" width="8.7" height="8.7"/>
<rect x="358.25" y="1544.05" width="8.7" height="8.7"/>
<rect x="372.05" y="1542.25" width="8.7" height="8.7"/>
<rect x="372.05" y="1551.65" width="8.7" height="8.7"/>
<rect x="344.55" y="1553.45" width="8.7" height="8.7"/>
<rect x="358.25" y="1554.65" width="8.7" height="8.7"/>
<rect x="358.25" y="1563.55" width="8.7" height="8.7"/>
<rect x="358.25" y="1574.25" width="8.7" height="8.7"/>
<rect x="372.05" y="1574.75" width="8.7" height="8.7"/>
<rect x="344.55" y="1580.05" width="8.7" height="8.7"/>
<path d="M78.7 1345.4V1691" stroke="#000" stroke-width="2.2" fill="none"/>
<path d="M74.4 1691.2H426.1" stroke="#000" stroke-width="2.9" fill="none"/>
<path d="M73.8 1691H78.7M73.8 1604.6H78.7M73.8 1518.2H78.7M73.8 1431.8H78.7M73.8 1345.4H78.7M75.2 1673.72H78.7M75.2 1656.44H78.7M75.2 1639.16H78.7M75.2 1621.88H78.7M75.2 1587.32H78.7M75.2 1570.04H78.7M75.2 1552.76H78.7M75.2 1535.48H78.7M75.2 1500.92H78.7M75.2 1483.64H78.7M75.2 1466.36H78.7M75.2 1449.08H78.7M75.2 1414.52H78.7M75.2 1397.24H78.7M75.2 1379.96H78.7M75.2 1362.68H78.7" stroke="#000" stroke-width="2.3" fill="none"/>
<path d="M128.35 1691V1696.8M206.25 1691V1696.8M284.15 1691V1696.8M362.05 1691V1696.8" stroke="#000" stroke-width="1.8" fill="none"/>
<text transform="translate(71.3 1699.8) scale(0.92 1)" font-size="26.5" text-anchor="end">0</text>
<text transform="translate(71.3 1613.4) scale(0.92 1)" font-size="26.5" text-anchor="end">5</text>
<text transform="translate(71.3 1527) scale(0.95 1)" font-size="26.5" text-anchor="end">10</text>
<text transform="translate(71.3 1440.6) scale(0.95 1)" font-size="26.5" text-anchor="end">15</text>
<text transform="translate(71.3 1354.2) scale(0.95 1)" font-size="26.5" text-anchor="end">20</text>
<text x="84.7" y="1353.4" font-size="26">mm/s</text>
<text transform="translate(35 1510.75) rotate(-90)" font-size="23.5" font-weight="bold" text-anchor="middle">Average speed (Anterior-posterior)</text>
<text x="128.35" y="1720.4" font-size="26" text-anchor="middle">EG</text>
<text x="206.25" y="1720.4" font-size="26" text-anchor="middle">CG</text>
<text x="284.15" y="1720.4" font-size="26" text-anchor="middle">EG</text>
<text x="362.05" y="1720.4" font-size="26" text-anchor="middle">CG</text>
<text x="388.2" y="1711.9" font-size="25">Group</text>
<text x="166.8" y="1743.7" font-size="26" text-anchor="middle">Baseline</text>
<text x="324.7" y="1743.3" font-size="26" text-anchor="middle">4 weeks</text>
<path d="M205.4 1367.3V1360.5H365.4V1367.3" stroke="#000" stroke-width="2" fill="none"/>
<text x="287.4" y="1357.6" font-size="18" text-anchor="middle" stroke="#000" stroke-width="0.35">##</text>
<path d="M124.6 1390V1383.4H285.6V1390" stroke="#000" stroke-width="2" fill="none"/>
<text x="204.8" y="1381" font-size="18" text-anchor="middle" stroke="#000" stroke-width="0.35">##</text>
<rect x="538" y="1471.5" width="60.4" height="208.2" fill="url(#pEG)" stroke="#000" stroke-width="1.4"/>
<rect x="616.3" y="1478.3" width="59.6" height="201.4" fill="url(#pCG)" stroke="#000" stroke-width="2.2"/>
<rect x="694.2" y="1523.4" width="59.6" height="156.3" fill="url(#pEG)" stroke="#000" stroke-width="2.2"/>
<rect x="772.1" y="1516.7" width="59.6" height="163" fill="url(#pCG)" stroke="#000" stroke-width="2.2"/>
<path d="M568.35 1466.2V1474.2M552.85 1466.2H583.85M552.85 1474.2H583.85" stroke="#000" stroke-width="2" fill="none"/>
<path d="M646.25 1467.3V1488M630.75 1467.3H661.75M630.75 1488H661.75" stroke="#333" stroke-width="1.3" fill="none"/>
<path d="M724.15 1515.5V1528M708.65 1515.5H739.65M708.65 1528H739.65" stroke="#333" stroke-width="1.3" fill="none"/>
<path d="M802.05 1508.3V1523M786.55 1508.3H817.55M786.55 1523H817.55" stroke="#333" stroke-width="1.3" fill="none"/>
<circle cx="568.6" cy="1410.3" r="4.45"/>
<circle cx="559.4" cy="1444.9" r="4.45"/>
<circle cx="577.7" cy="1446.4" r="4.45"/>
<circle cx="568.3" cy="1453.5" r="4.45"/>
<circle cx="550.1" cy="1458.5" r="4.45"/>
<circle cx="559.4" cy="1460" r="4.45"/>
<circle cx="586.9" cy="1460.2" r="4.45"/>
<circle cx="550.1" cy="1466.6" r="4.45"/>
<circle cx="568.3" cy="1465.3" r="4.45"/>
<circle cx="577.7" cy="1465.8" r="4.45"/>
<circle cx="541" cy="1472.4" r="4.45"/>
<circle cx="559.4" cy="1472.4" r="4.45"/>
<circle cx="596" cy="1472" r="4.45"/>
<circle cx="568.3" cy="1476.2" r="4.45"/>
<circle cx="577.7" cy="1477.3" r="4.45"/>
<circle cx="550.1" cy="1479.5" r="4.45"/>
<circle cx="586.9" cy="1479.5" r="4.45"/>
<circle cx="568.3" cy="1486.2" r="4.45"/>
<circle cx="577.7" cy="1486.2" r="4.45"/>
<circle cx="568.3" cy="1501.7" r="4.45"/>
<circle cx="568.5" cy="1531.6" r="4.45"/>
<rect x="642.15" y="1390.35" width="8.7" height="8.7"/>
<rect x="642.15" y="1400.95" width="8.7" height="8.7"/>
<rect x="628.35" y="1438.75" width="8.7" height="8.7"/>
<rect x="628.35" y="1447.15" width="8.7" height="8.7"/>
<rect x="642.15" y="1445.85" width="8.7" height="8.7"/>
<rect x="655.85" y="1438.75" width="8.7" height="8.7"/>
<rect x="614.45" y="1464.75" width="8.7" height="8.7"/>
<rect x="641.95" y="1462.95" width="8.7" height="8.7"/>
<rect x="641.95" y="1470.55" width="8.7" height="8.7"/>
<rect x="628.15" y="1471.45" width="8.7" height="8.7"/>
<rect x="655.75" y="1471.45" width="8.7" height="8.7"/>
<rect x="669.75" y="1469.65" width="8.7" height="8.7"/>
<rect x="628.15" y="1483.85" width="8.7" height="8.7"/>
<rect x="641.95" y="1483.85" width="8.7" height="8.7"/>
<rect x="655.75" y="1485.15" width="8.7" height="8.7"/>
<rect x="628.15" y="1497.65" width="8.7" height="8.7"/>
<rect x="641.95" y="1497.65" width="8.7" height="8.7"/>
<rect x="641.95" y="1511.35" width="8.7" height="8.7"/>
<rect x="641.95" y="1530.25" width="8.7" height="8.7"/>
<rect x="641.95" y="1583.55" width="8.7" height="8.7"/>
<circle cx="731.9" cy="1475.9" r="4.45"/>
<circle cx="716.4" cy="1477.7" r="4.45"/>
<circle cx="701" cy="1484.3" r="4.45"/>
<circle cx="716.4" cy="1487.8" r="4.45"/>
<circle cx="731.9" cy="1491.4" r="4.45"/>
<circle cx="716.4" cy="1496.7" r="4.45"/>
<circle cx="731.9" cy="1502" r="4.45"/>
<circle cx="716.4" cy="1508.8" r="4.45"/>
<circle cx="701" cy="1513.8" r="4.45"/>
<circle cx="716.4" cy="1521.2" r="4.45"/>
<circle cx="731.9" cy="1521.2" r="4.45"/>
<circle cx="747.5" cy="1522.6" r="4.45"/>
<circle cx="701" cy="1536.3" r="4.45"/>
<circle cx="701" cy="1545.2" r="4.45"/>
<circle cx="701" cy="1553.5" r="4.45"/>
<circle cx="716.4" cy="1541.6" r="4.45"/>
<circle cx="747.5" cy="1543.4" r="4.45"/>
<circle cx="731.9" cy="1547" r="4.45"/>
<circle cx="716.4" cy="1558.9" r="4.45"/>
<circle cx="731.9" cy="1557.1" r="4.45"/>
<circle cx="716.4" cy="1569.2" r="4.45"/>
<rect x="797.85" y="1454.35" width="8.7" height="8.7"/>
<rect x="783.95" y="1478.15" width="8.7" height="8.7"/>
<rect x="825.35" y="1481.75" width="8.7" height="8.7"/>
<rect x="825.35" y="1490.65" width="8.7" height="8.7"/>
<rect x="825.35" y="1500.55" width="8.7" height="8.7"/>
<rect x="770.15" y="1488.45" width="8.7" height="8.7"/>
<rect x="770.15" y="1499.15" width="8.7" height="8.7"/>
<rect x="811.55" y="1487.05" width="8.7" height="8.7"/>
<rect x="811.55" y="1497.35" width="8.7" height="8.7"/>
<rect x="783.95" y="1493.75" width="8.7" height="8.7"/>
<rect x="797.85" y="1497.65" width="8.7" height="8.7"/>
<rect x="797.85" y="1506.25" width="8.7" height="8.7"/>
<rect x="797.85" y="1521.35" width="8.7" height="8.7"/>
<rect x="783.95" y="1533.25" width="8.7" height="8.7"/>
<rect x="811.55" y="1533.25" width="8.7" height="8.7"/>
<rect x="770.15" y="1540.85" width="8.7" height="8.7"/>
<rect x="825.35" y="1540.85" width="8.7" height="8.7"/>
<rect x="797.85" y="1539.05" width="8.7" height="8.7"/>
<rect x="797.85" y="1552.75" width="8.7" height="8.7"/>
<rect x="797.85" y="1571.95" width="8.7" height="8.7"/>
<path d="M518 1333.3V1679.7" stroke="#000" stroke-width="2.2" fill="none"/>
<path d="M513.7 1679.9H866.1" stroke="#000" stroke-width="2.9" fill="none"/>
<path d="M513.1 1679.7H518M513.1 1593.1H518M513.1 1506.5H518M513.1 1419.9H518M513.1 1333.3H518M514.5 1662.38H518M514.5 1645.06H518M514.5 1627.74H518M514.5 1610.42H518M514.5 1575.78H518M514.5 1558.46H518M514.5 1541.14H518M514.5 1523.82H518M514.5 1489.18H518M514.5 1471.86H518M514.5 1454.54H518M514.5 1437.22H518M514.5 1402.58H518M514.5 1385.26H518M514.5 1367.94H518M514.5 1350.62H518" stroke="#000" stroke-width="2.3" fill="none"/>
<path d="M568.35 1679.7V1685.5M646.25 1679.7V1685.5M724.15 1679.7V1685.5M802.05 1679.7V1685.5" stroke="#000" stroke-width="1.8" fill="none"/>
<text transform="translate(510.6 1688.5) scale(0.92 1)" font-size="26.5" text-anchor="end">0</text>
<text transform="translate(510.6 1601.9) scale(0.92 1)" font-size="26.5" text-anchor="end">5</text>
<text transform="translate(510.6 1515.3) scale(0.95 1)" font-size="26.5" text-anchor="end">10</text>
<text transform="translate(510.6 1428.7) scale(0.95 1)" font-size="26.5" text-anchor="end">15</text>
<text transform="translate(510.6 1342.1) scale(0.95 1)" font-size="26.5" text-anchor="end">20</text>
<text x="523.6" y="1337.5" font-size="26">mm/s</text>
<text transform="translate(472.7 1497.3) rotate(-90)" font-size="25.4" font-weight="bold" text-anchor="middle">A<tspan dx="3">verage speed (Medial lateral)</tspan></text>
<text x="568.35" y="1709.1" font-size="26" text-anchor="middle">EG</text>
<text x="646.25" y="1709.1" font-size="26" text-anchor="middle">CG</text>
<text x="724.15" y="1709.1" font-size="26" text-anchor="middle">EG</text>
<text x="802.05" y="1709.1" font-size="26" text-anchor="middle">CG</text>
<text x="828.2" y="1703" font-size="25">Group</text>
<text x="605.4" y="1732.4" font-size="26" text-anchor="middle">Baseline</text>
<text x="763.6" y="1732" font-size="26" text-anchor="middle">4 weeks</text>
<path d="M644.8 1355.7V1348.6H805.4V1355.7" stroke="#000" stroke-width="2" fill="none"/>
<text x="729.1" y="1346.7" font-size="18" text-anchor="middle" stroke="#000" stroke-width="0.35">##</text>
<path d="M564 1378.4V1370.7H724.6V1378.4" stroke="#000" stroke-width="2" fill="none"/>
<text x="646" y="1369.4" font-size="18" text-anchor="middle" stroke="#000" stroke-width="0.35">##</text>
</svg></body></html>
